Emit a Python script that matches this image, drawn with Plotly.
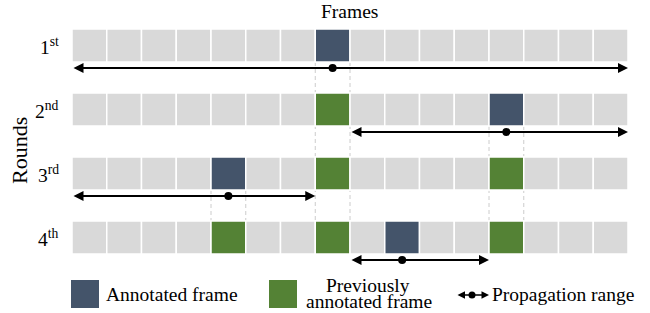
import plotly.graph_objects as go

# ---- data ----
n_frames = 16
round_labels = ["1<sup>st</sup>", "2<sup>nd</sup>", "3<sup>rd</sup>", "4<sup>th</sup>"]
annotated = [7, 12, 4, 9]                 # frame annotated in each round
previous = [[], [7], [7, 12], [4, 7, 12]]  # previously annotated frames
prop_start = [0, 8, 0, 8]                 # propagation range (frame boundaries)
prop_end = [16, 16, 7, 12]

GRAY = "#d9d9d9"
DARK = "#44546a"
GREEN = "#548235"
FONT = "Liberation Serif, Times New Roman, serif"
FS = 19.5

W, H = 650, 313
CELL_PX = 34.75
X0_PX = 72
ROW_PX = 64
ROW0_PX = 45.5
CELL_H = 33 / ROW_PX
ARROW_DY = 22.5 / ROW_PX

fig = go.Figure()

# cells
for r in range(len(round_labels)):
    colors = []
    for f in range(n_frames):
        if f == annotated[r]:
            colors.append(DARK)
        elif f in previous[r]:
            colors.append(GREEN)
        else:
            colors.append(GRAY)
    fig.add_trace(go.Bar(
        orientation="h",
        y=[r] * n_frames,
        x=[1] * n_frames,
        base=list(range(n_frames)),
        width=CELL_H,
        marker=dict(color=colors, line=dict(color="white", width=1.5)),
        hoverinfo="skip", showlegend=False,
    ))

# dashed guide lines
last = len(round_labels) - 1
for r in range(last):
    f = annotated[r]
    for edge in (f, f + 1):
        fig.add_shape(type="line", xref="x", yref="y",
                      x0=edge, x1=edge, y0=r + CELL_H / 2, y1=last - CELL_H / 2,
                      line=dict(color="#cccccc", width=1, dash="4px,3px"),
                      layer="below")

# propagation arrows
for r in range(len(round_labels)):
    y = r + ARROW_DY
    fig.add_annotation(x=prop_end[r], y=y, ax=prop_start[r], ay=y,
                       xref="x", yref="y", axref="x", ayref="y",
                       text="", showarrow=True, arrowside="end+start",
                       arrowhead=2, startarrowhead=2, arrowsize=1, startarrowsize=1,
                       arrowwidth=2, arrowcolor="black", standoff=0, startstandoff=0)

fig.add_trace(go.Scatter(
    x=[a + 0.5 for a in annotated],
    y=[r + ARROW_DY for r in range(len(round_labels))],
    mode="markers", marker=dict(color="black", size=8),
    hoverinfo="skip", showlegend=False,
))

# row labels
for r, lab in enumerate(round_labels):
    fig.add_annotation(x=(61 - X0_PX) / CELL_PX, y=r, xref="x", yref="y",
                       text=lab, showarrow=False, xanchor="right", yanchor="middle",
                       font=dict(family=FONT, size=FS, color="black"))

def px(xp):
    return xp / W

def py(yp):
    return 1 - yp / H

# titles
fig.add_annotation(x=px(349.5), y=py(11), xref="paper", yref="paper", text="Frames",
                   showarrow=False, xanchor="center", yanchor="middle",
                   font=dict(family=FONT, size=FS, color="black"))
fig.add_annotation(x=px(20), y=py(151), xref="paper", yref="paper", text="Rounds",
                   showarrow=False, textangle=-90, xanchor="center", yanchor="middle",
                   font=dict(family=FONT, size=22, color="black"))

# legend
fig.add_shape(type="rect", xref="paper", yref="paper",
              x0=px(71), x1=px(99), y0=py(308), y1=py(280),
              fillcolor=DARK, line=dict(width=0))
fig.add_annotation(x=px(104), y=py(294), xref="paper", yref="paper", text="Annotated frame",
                   showarrow=False, xanchor="left", yanchor="middle",
                   font=dict(family=FONT, size=FS, color="black"))
fig.add_shape(type="rect", xref="paper", yref="paper",
              x0=px(269), x1=px(297), y0=py(308), y1=py(280),
              fillcolor=GREEN, line=dict(width=0))
fig.add_annotation(x=px(368), y=py(285), xref="paper", yref="paper", text="Previously",
                   showarrow=False, xanchor="center", yanchor="middle",
                   font=dict(family=FONT, size=FS, color="black"))
fig.add_annotation(x=px(369), y=py(301), xref="paper", yref="paper", text="annotated frame",
                   showarrow=False, xanchor="center", yanchor="middle",
                   font=dict(family=FONT, size=FS, color="black"))
fig.add_annotation(x=px(489), y=py(295), ax=-33, ay=0,
                   xref="paper", yref="paper", axref="pixel", ayref="pixel",
                   text="", showarrow=True, arrowside="end+start",
                   arrowhead=2, startarrowhead=2, arrowsize=1, startarrowsize=1,
                   arrowwidth=1.5, arrowcolor="black", standoff=0, startstandoff=0)
fig.add_shape(type="circle", xref="paper", yref="paper",
              x0=px(468.5), x1=px(475.5), y0=py(298.5), y1=py(291.5),
              fillcolor="black", line=dict(width=0))
fig.add_annotation(x=px(490), y=py(294), xref="paper", yref="paper", text="Propagation range",
                   showarrow=False, xanchor="left", yanchor="middle",
                   font=dict(family=FONT, size=FS, color="black"))

fig.update_layout(
    width=W, height=H,
    margin=dict(l=0, r=0, t=0, b=0),
    paper_bgcolor="white", plot_bgcolor="white",
    barmode="overlay",
    xaxis=dict(range=[-X0_PX / CELL_PX, (W - X0_PX) / CELL_PX], visible=False, fixedrange=True),
    yaxis=dict(range=[(H - ROW0_PX) / ROW_PX, -ROW0_PX / ROW_PX], visible=False, fixedrange=True),
    showlegend=False,
)

fig.write_html("out.html", config={"displayModeBar": False},
               post_script="document.body.style.margin='0';document.body.style.overflow='hidden';")
